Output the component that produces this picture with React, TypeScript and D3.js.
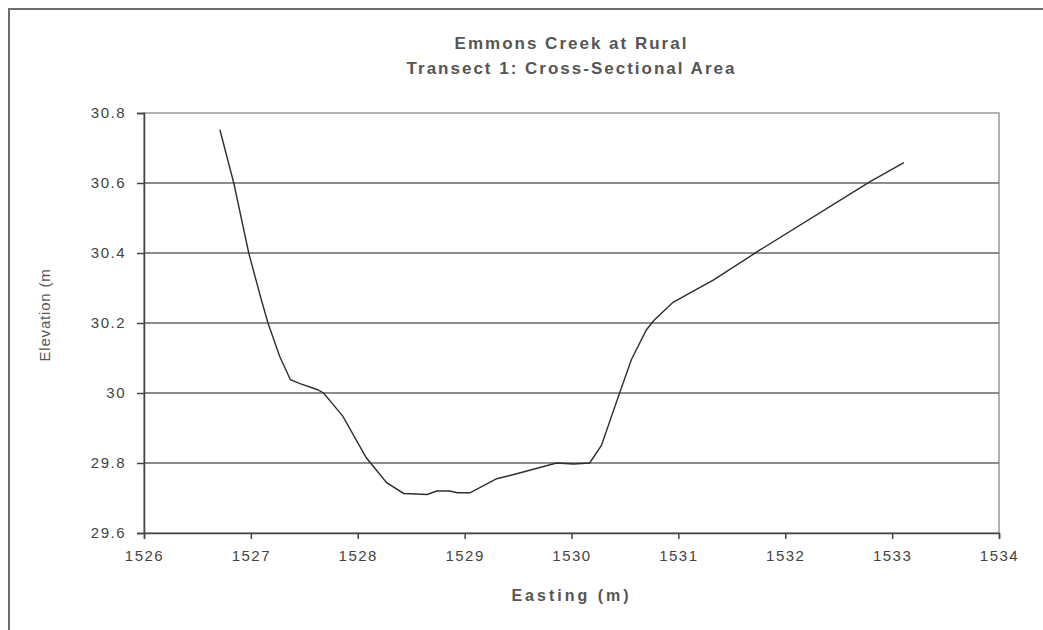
import { useEffect, useRef } from "react"
import * as d3 from "d3"

// Transect survey points
const easting = [
  1526.71, 1526.84, 1526.98, 1527.09, 1527.16, 1527.27, 1527.37, 1527.46, 1527.62, 1527.68,
  1527.86, 1528.08, 1528.27, 1528.43, 1528.65, 1528.74, 1528.86, 1528.93, 1529.05, 1529.3,
  1529.46, 1529.86, 1530.02, 1530.17, 1530.28, 1530.45, 1530.56, 1530.7, 1530.77, 1530.95,
  1531.33, 1531.76, 1532.79, 1533.11,
]
const elevation = [
  30.752, 30.6, 30.4, 30.275, 30.2, 30.104, 30.038, 30.027, 30.01, 30.0,
  29.934, 29.815, 29.744, 29.713, 29.71, 29.72, 29.72, 29.715, 29.715, 29.755,
  29.767, 29.8, 29.797, 29.8, 29.85, 30.0, 30.095, 30.18, 30.207, 30.259,
  30.323, 30.408, 30.603, 30.658,
]
const xTicks = [1526, 1527, 1528, 1529, 1530, 1531, 1532, 1533, 1534]
const yTicks = [29.6, 29.8, 30, 30.2, 30.4, 30.6, 30.8]
const titleLines = ["Emmons Creek at Rural", "Transect 1: Cross-Sectional Area"]

export default function App() {
  const svgRef = useRef<SVGSVGElement>(null)

  useEffect(() => {
    if (!svgRef.current) return
    const W = 1043
    const H = 630
    const root = d3.select(svgRef.current)
    root.selectAll("*").remove()
    root.attr("width", W).attr("height", H)

    const font = "'Liberation Sans', Arial, sans-serif"
    const plot = { left: 144, right: 999, top: 113, bottom: 533 }

    // white background + outer chart frame (runs off right/bottom edges)
    root.append("rect").attr("width", W).attr("height", H).attr("fill", "#fff")
    root
      .append("rect")
      .attr("x", 9)
      .attr("y", 9)
      .attr("width", W + 20)
      .attr("height", H + 20)
      .attr("fill", "none")
      .attr("stroke", "#6e6e6e")
      .attr("stroke-width", 2)

    const x = d3.scaleLinear().domain([1526, 1534]).range([plot.left, plot.right])
    const y = d3.scaleLinear().domain([29.6, 30.8]).range([plot.bottom, plot.top])

    // plot frame
    root
      .append("rect")
      .attr("x", plot.left)
      .attr("y", plot.top)
      .attr("width", plot.right - plot.left)
      .attr("height", plot.bottom - plot.top)
      .attr("fill", "none")
      .attr("stroke", "#999")
      .attr("stroke-width", 1.5)

    // horizontal gridlines
    root
      .append("g")
      .selectAll("line")
      .data(yTicks.slice(1, -1))
      .join("line")
      .attr("x1", plot.left)
      .attr("x2", plot.right)
      .attr("y1", (d) => y(d))
      .attr("y2", (d) => y(d))
      .attr("stroke", "#666")
      .attr("stroke-width", 1.7)

    // axes
    const yAxis = root
      .append("g")
      .attr("transform", `translate(${plot.left},0)`)
      .call(
        d3
          .axisLeft(y)
          .tickValues(yTicks)
          .tickSize(7)
          .tickPadding(11)
          .tickFormat((d) => d3.format("")(+(+d).toFixed(1)))
      )
    yAxis.select(".domain").attr("stroke", "#444").attr("stroke-width", 1.5)
    yAxis.selectAll(".tick line").attr("stroke", "#444").attr("stroke-width", 1.5)
    yAxis
      .selectAll("text")
      .attr("fill", "#444")
      .style("font-family", font)
      .style("font-size", "15px")
      .style("letter-spacing", "1.5px")

    const xAxis = root
      .append("g")
      .attr("transform", `translate(0,${plot.bottom})`)
      .call(d3.axisBottom(x).tickValues(xTicks).tickSize(6).tickPadding(11).tickFormat(d3.format("d")))
    xAxis.select(".domain").attr("stroke", "#444").attr("stroke-width", 1.5)
    xAxis.selectAll(".tick line").attr("stroke", "#444").attr("stroke-width", 1.5)
    xAxis
      .selectAll("text")
      .attr("fill", "#444")
      .style("font-family", font)
      .style("font-size", "15px")
      .style("letter-spacing", "1.5px")

    // the transect profile
    const line = d3
      .line<number>()
      .x((d) => x(d))
      .y((_, i) => y(elevation[i]))
    root
      .append("path")
      .datum(easting)
      .attr("d", line)
      .attr("fill", "none")
      .attr("stroke", "#2e2e2e")
      .attr("stroke-width", 1.4)

    // title
    root
      .append("g")
      .selectAll("text")
      .data(titleLines)
      .join("text")
      .attr("x", (plot.left + plot.right) / 2)
      .attr("y", (_, i) => 49 + i * 25)
      .attr("text-anchor", "middle")
      .attr("fill", "#555")
      .style("font-family", font)
      .style("font-weight", "bold")
      .style("font-size", "17px")
      .style("letter-spacing", "2px")
      .text((d) => d)

    // axis titles
    root
      .append("text")
      .attr("x", (plot.left + plot.right) / 2)
      .attr("y", 601)
      .attr("text-anchor", "middle")
      .attr("fill", "#555")
      .style("font-family", font)
      .style("font-weight", "bold")
      .style("font-size", "16px")
      .style("letter-spacing", "3px")
      .text("Easting (m)")

    root
      .append("text")
      .attr("transform", `translate(50,315) rotate(-90)`)
      .attr("text-anchor", "middle")
      .attr("fill", "#555")
      .style("font-family", font)
      .style("font-size", "15px")
      .style("letter-spacing", "0.8px")
      .text("Elevation (m")
  }, [])

  return <svg ref={svgRef} style={{ position: "absolute", left: 0, top: 0, display: "block" }}></svg>
}
